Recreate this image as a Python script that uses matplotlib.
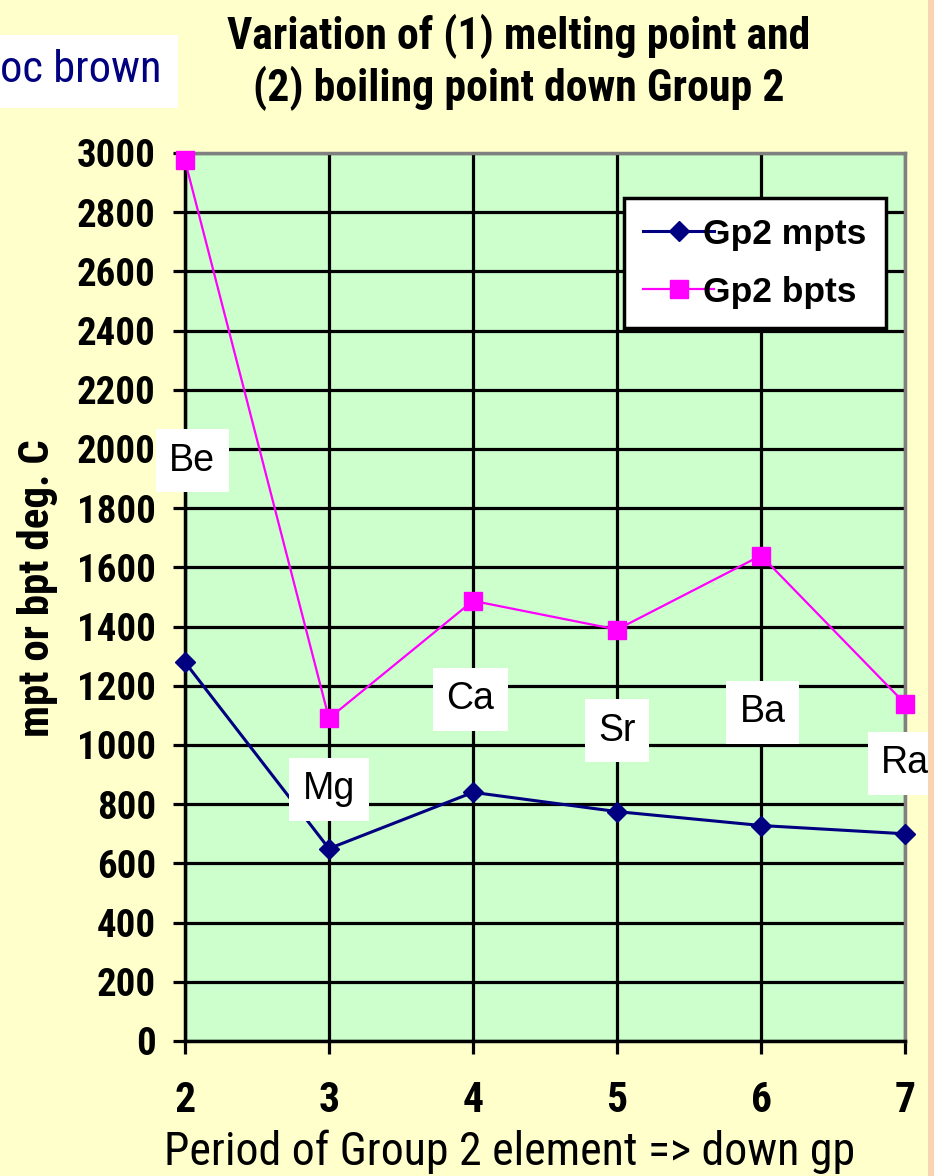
import matplotlib
matplotlib.use("Agg")
import matplotlib.pyplot as plt
from matplotlib.patches import Rectangle

# data
periods = [2, 3, 4, 5, 6, 7]
elements = ["Be", "Mg", "Ca", "Sr", "Ba", "Ra"]
melting = [1280, 650, 840, 775, 728, 700]
boiling = [2975, 1090, 1487, 1390, 1640, 1140]
# where the element name boxes sit (deg C / period offset)
label_y = [1960, 850, 1155, 1048, 1110, 938]
label_dx = [0.05, 0.0, -0.02, 0.0, 0.01, 0.0]

narrow = ["Roboto Condensed", "Archivo Narrow", "DejaVu Sans"]
plain = ["Liberation Sans", "DejaVu Sans"]
plt.rcParams["font.family"] = narrow

fig = plt.figure(figsize=(9.34, 11.76), dpi=100)
fig.patch.set_facecolor("#FFFFCC")
fig.patches.append(Rectangle((0.9936, 0), 0.01, 1, transform=fig.transFigure,
                             facecolor="#F8D4B0", edgecolor="none"))
# white name box top left
fig.patches.append(Rectangle((0, 0.9082), 0.1906, 0.0621, transform=fig.transFigure,
                             facecolor="white", edgecolor="none"))

ax = fig.add_axes([0.198, 0.1148, 0.771, 0.7551])
ax.set_facecolor("#CCFFCC")

ax.plot(periods, melting, color="#000080", lw=2.2, marker="D", ms=10,
        label="Gp2 mpts", clip_on=False, zorder=3)
ax.plot(periods, boiling, color="#FF00FF", lw=1.6, marker="s", ms=12.5,
        label="Gp2 bpts", clip_on=False, zorder=3)

for p, el, ly, dx in zip(periods, elements, label_y, label_dx):
    ax.text(p + dx, ly, el, fontsize=27, family=plain, ha="center", va="center",
            bbox=dict(boxstyle="square,pad=0.36", fc="white", ec="none"),
            clip_on=False, zorder=4)

ax.set_xlim(2, 7)
ax.set_ylim(0, 3000)
ax.set_xticks(periods)
ax.set_yticks(range(0, 3001, 200))
ax.grid(True, color="black", lw=2.3)
ax.set_axisbelow(True)

for side in ["top", "right"]:
    ax.spines[side].set_color("#808080")
    ax.spines[side].set_linewidth(2.5)
for side in ["left", "bottom"]:
    ax.spines[side].set_color("black")
    ax.spines[side].set_linewidth(2.5)

ax.tick_params(axis="both", length=9, width=2.3, direction="out")
ax.tick_params(axis="y", pad=12)
ax.tick_params(axis="x", pad=19)
for lab in ax.get_yticklabels():
    lab.set_fontsize(28)
    lab.set_fontweight("bold")
for lab in ax.get_xticklabels():
    lab.set_fontsize(30)
    lab.set_fontweight("bold")

ax.set_ylabel("mpt or bpt deg. C", fontsize=31, fontweight="bold")
ax.yaxis.set_label_coords(-0.176, 0.51)
ax.set_xlabel("Period of Group 2 element => down gp", fontsize=33)
ax.xaxis.set_label_coords(0.451, -0.1)

leg = ax.legend(loc="upper right", bbox_to_anchor=(0.974, 0.949), borderaxespad=0,
                prop={"family": plain, "size": 25.5, "weight": "bold"},
                frameon=True, fancybox=False, handlelength=2.0,
                handletextpad=-0.3, borderpad=0.55, labelspacing=0.7)
leg.get_frame().set_edgecolor("black")
leg.get_frame().set_linewidth(2.5)
leg.get_frame().set_alpha(1)

fig.text(0.555, 0.988, "Variation of (1) melting point and\n(2) boiling point down Group 2",
         ha="center", va="top", fontsize=31.5, fontweight="bold", linespacing=1.2)

fig.text(0.0, 0.9405, "oc brown", ha="left", va="center", fontsize=32,
         color="#000080")

fig.savefig("out.png", dpi=100, facecolor=fig.get_facecolor())
